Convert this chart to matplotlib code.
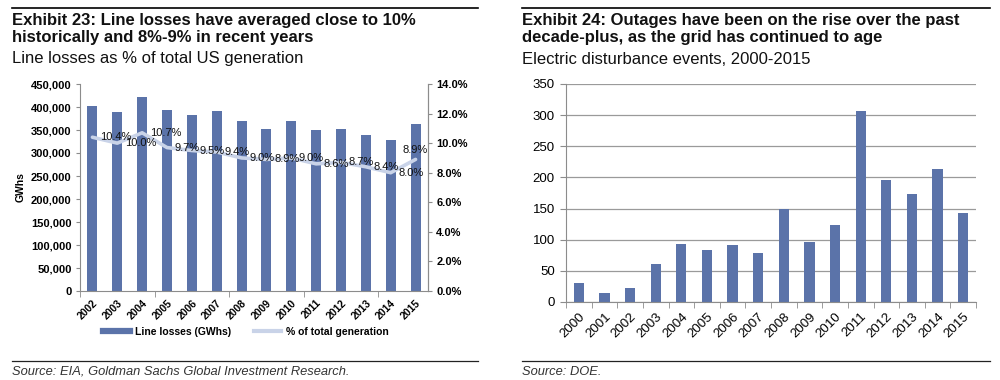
import matplotlib
matplotlib.use("Agg")
import matplotlib.pyplot as plt
from matplotlib.lines import Line2D
from matplotlib.ticker import FuncFormatter, FixedLocator

plt.rcParams['font.family'] = ['Liberation Sans', 'DejaVu Sans']

# Exhibit 23 data
loss_years = ['2002', '2003', '2004', '2005', '2006', '2007', '2008',
              '2009', '2010', '2011', '2012', '2013', '2014', '2015']
line_losses = [403000, 388500, 422500, 393000, 382500, 392000, 370000,
               353000, 369500, 350000, 352000, 340000, 328500, 362500]
pct_generation = [10.4, 10.0, 10.7, 9.7, 9.5, 9.4, 9.0,
                  8.9, 9.0, 8.6, 8.7, 8.4, 8.0, 8.9]

# Exhibit 24 data
outage_years = ['2000', '2001', '2002', '2003', '2004', '2005', '2006', '2007',
                '2008', '2009', '2010', '2011', '2012', '2013', '2014', '2015']
outages = [30, 15, 23, 61, 93, 83, 91, 78, 150, 97, 123, 307, 196, 174, 214, 143]

bar_color = '#5b73a9'
line_color = '#c9d3e8'
spine_color = '#8c8c8c'

W, H = 1000, 380
fig = plt.figure(figsize=(10, 3.8), dpi=100)


def fx(px):
    return px / W


def fy(py):
    return 1 - py / H


# ---- headers / footers for both exhibits ----
headers = [
    (12, 478, "Exhibit 23: Line losses have averaged close to 10%\nhistorically and 8%-9% in recent years",
     "Line losses as % of total US generation",
     "Source: EIA, Goldman Sachs Global Investment Research."),
    (522, 990, "Exhibit 24: Outages have been on the rise over the past\ndecade-plus, as the grid has continued to age",
     "Electric disturbance events, 2000-2015",
     "Source: DOE."),
]
for x0, x1, title, subtitle, source in headers:
    fig.add_artist(Line2D([fx(x0), fx(x1)], [fy(8), fy(8)], color='black', lw=1.2))
    fig.add_artist(Line2D([fx(x0), fx(x1)], [fy(361), fy(361)], color='#222222', lw=0.9))
    fig.text(fx(x0), fy(12.5), title, fontsize=12, fontweight='bold', va='top', ha='left',
             linespacing=1.22, color='#111111')
    fig.text(fx(x0), fy(51.5), subtitle, fontsize=12, va='top', ha='left', color='#111111')
    fig.text(fx(x0), fy(366), source, fontsize=9.3, style='italic', va='top', ha='left', color='#333333')

# ---- Exhibit 23 ----
ax = fig.add_axes([fx(80), fy(291), fx(428) - fx(80), fy(84) - fy(291)])
xs = list(range(len(loss_years)))
ax.bar(xs, line_losses, width=0.4, color=bar_color, zorder=2)
ax.set_xlim(-0.5, len(loss_years) - 0.5)
ax.set_ylim(0, 450000)
ax.set_yticks(range(0, 450001, 50000))
ax.yaxis.set_major_formatter(FuncFormatter(lambda v, p: f"{int(v):,}"))
ax.set_xticks(xs)
ax.set_xticklabels(loss_years, rotation=45, ha='right', rotation_mode='anchor',
                   fontsize=7.5, fontweight='bold')
ax.xaxis.set_minor_locator(FixedLocator([-0.5, 2.5, 5.5, 8.5, 11.5]))
ax.tick_params(axis='x', which='major', length=0, pad=5)
ax.tick_params(axis='x', which='minor', length=4, color=spine_color)
ax.tick_params(axis='y', length=3, color=spine_color, labelsize=8, pad=3)
for lbl in ax.get_yticklabels():
    lbl.set_fontweight('bold')
ax.set_ylabel('GWhs', fontsize=7.5, fontweight='bold', labelpad=4)
for s in ['top']:
    ax.spines[s].set_visible(False)
for s in ['left', 'bottom', 'right']:
    ax.spines[s].set_color(spine_color)

ax2 = ax.twinx()
ax2.plot(xs, pct_generation, color=line_color, lw=2.6, solid_capstyle='round', zorder=3)
ax2.set_ylim(0, 14)
ax2.set_yticks([0, 2, 4, 6, 8, 10, 12, 14])
ax2.yaxis.set_major_formatter(FuncFormatter(lambda v, p: f"{v:.1f}%"))
ax2.tick_params(axis='y', length=3, color=spine_color, labelsize=8, pad=3)
for lbl in ax2.get_yticklabels():
    lbl.set_fontweight('bold')
for s in ['top', 'left', 'bottom']:
    ax2.spines[s].set_visible(False)
ax2.spines['right'].set_color(spine_color)
for i, v in enumerate(pct_generation):
    if i == len(pct_generation) - 1:
        ax2.annotate(f"{v:.1f}%", (i, v), xytext=(0, 7), textcoords='offset points',
                     ha='center', va='center', fontsize=8, color='#111111')
    else:
        ax2.annotate(f"{v:.1f}%", (i, v), xytext=(5.5, 0), textcoords='offset points',
                     ha='left', va='center', fontsize=8, color='#111111')

handles = [Line2D([0], [0], color=bar_color, lw=4.5),
           Line2D([0], [0], color=line_color, lw=3)]
fig.legend(handles, ['Line losses (GWhs)', '% of total generation'], loc='center',
           bbox_to_anchor=(fx(246), fy(332)), ncol=2, frameon=False,
           prop={'size': 7.5, 'weight': 'bold'}, handlelength=2.6, handletextpad=0.5,
           columnspacing=2.2)

# ---- Exhibit 24 ----
bx = fig.add_axes([fx(566), fy(302), fx(976) - fx(566), fy(84) - fy(302)])
ox = list(range(len(outage_years)))
bx.bar(ox, outages, width=0.4, color=bar_color, zorder=2)
bx.set_xlim(-0.5, len(outage_years) - 0.5)
bx.set_ylim(0, 350)
bx.set_yticks(range(0, 351, 50))
bx.yaxis.grid(True, color='#9a9a9a', lw=0.9, zorder=0)
bx.set_axisbelow(True)
bx.set_xticks(ox)
bx.set_xticklabels(outage_years, rotation=45, ha='right', rotation_mode='anchor', fontsize=9.5)
bx.xaxis.set_minor_locator(FixedLocator([i - 0.5 for i in range(len(outage_years) + 1)]))
bx.tick_params(axis='x', which='major', length=0, pad=6)
bx.tick_params(axis='x', which='minor', length=4, color=spine_color)
bx.tick_params(axis='y', length=4, color=spine_color, labelsize=9.5, pad=4)
for s in ['top', 'right']:
    bx.spines[s].set_visible(False)
for s in ['left', 'bottom']:
    bx.spines[s].set_color(spine_color)

fig.savefig('out.png', dpi=100)
